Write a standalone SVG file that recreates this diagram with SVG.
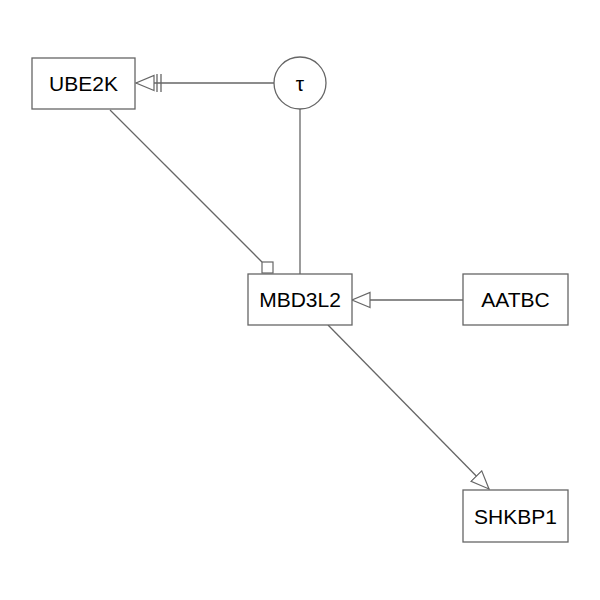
<svg xmlns="http://www.w3.org/2000/svg" width="600" height="600" viewBox="0 0 600 600">
<style>
.n rect, .n circle { fill: #fff; stroke: #666; stroke-width: 1.3; }
.n text { font-family: "Liberation Sans", Arial, sans-serif; font-size: 21px; fill: #000; text-anchor: middle; dominant-baseline: central; }
.e { stroke: #666; stroke-width: 1.3; fill: none; }
</style>
<defs>
<marker id="tri" markerWidth="22" markerHeight="18" refX="19" refY="9" orient="auto" markerUnits="userSpaceOnUse">
<path d="M1,1.5 L19,9 L1,16.5 Z" fill="#fff" stroke="#666" stroke-width="1.2"/>
</marker>
<marker id="tribar" markerWidth="30" markerHeight="20" refX="28" refY="10" orient="auto" markerUnits="userSpaceOnUse">
<path d="M3,1 L3,19 M7,1 L7,19" stroke="#666" stroke-width="1.3" fill="none"/>
<path d="M10,2.5 L28,10 L10,17.5 Z" fill="#fff" stroke="#666" stroke-width="1.2"/>
</marker>
<marker id="sq" markerWidth="14" markerHeight="14" refX="1" refY="1" orient="0" markerUnits="userSpaceOnUse">
<rect x="1" y="1" width="11" height="11" fill="#fff" stroke="#666" stroke-width="1.2"/>
</marker>
</defs>
<g id="edges">
<line class="e" x1="274" y1="83" x2="136" y2="83" marker-end="url(#tribar)"/>
<line class="e" x1="110" y1="110" x2="262" y2="262" marker-end="url(#sq)"/>
<line class="e" x1="300" y1="109" x2="300" y2="274"/>
<line class="e" x1="463" y1="300" x2="352" y2="300" marker-end="url(#tri)"/>
<line class="e" x1="328" y1="325" x2="489" y2="489" marker-end="url(#tri)"/>
</g>
<g id="UBE2K" class="n"><rect x="32" y="58" width="103" height="51"/><text x="83.5" y="83.5">UBE2K</text></g>
<g id="tau" class="n"><circle cx="300" cy="83" r="26"/><text x="300" y="83.5">τ</text></g>
<g id="MBD3L2" class="n"><rect x="248" y="274" width="104" height="51"/><text x="300" y="299.5">MBD3L2</text></g>
<g id="AATBC" class="n"><rect x="463" y="274" width="105" height="51"/><text x="515.5" y="299.5">AATBC</text></g>
<g id="SHKBP1" class="n"><rect x="463" y="490" width="105" height="52"/><text x="515.5" y="516">SHKBP1</text></g>
</svg>
